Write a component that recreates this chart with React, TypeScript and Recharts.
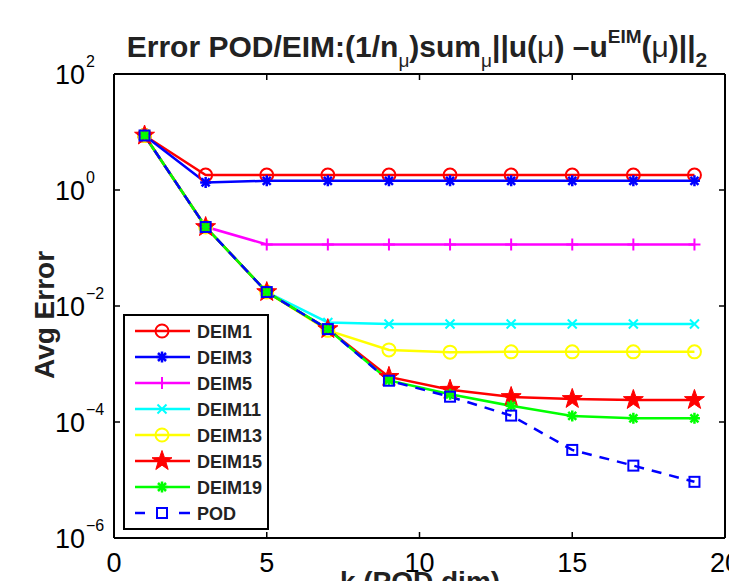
import React from 'react';
import { LineChart, Line, XAxis, YAxis, Legend } from 'recharts';

// k values (POD dimension)
const kValues = [1, 3, 5, 7, 9, 11, 13, 15, 17, 19];

// average errors
const deim1 = [8.7, 1.81, 1.81, 1.81, 1.81, 1.81, 1.81, 1.81, 1.81, 1.81];
const deim3 = [8.7, 1.35, 1.44, 1.44, 1.44, 1.44, 1.44, 1.44, 1.44, 1.44];
const deim5 = [8.7, 0.232, 0.115, 0.115, 0.115, 0.115, 0.115, 0.115, 0.115, 0.115];
const deim11 = [8.7, 0.23, 0.0174, 0.0052, 0.0049, 0.0049, 0.0049, 0.0049, 0.0049, 0.0049];
const deim13 = [8.7, 0.23, 0.0174, 0.0038, 0.00175, 0.0016, 0.00162, 0.00162, 0.00162, 0.00162];
const deim15 = [8.7, 0.23, 0.0174, 0.004, 6.0e-4, 3.6e-4, 2.7e-4, 2.5e-4, 2.4e-4, 2.4e-4];
const deim19 = [8.7, 0.23, 0.0174, 0.004, 5.2e-4, 3.0e-4, 1.9e-4, 1.27e-4, 1.16e-4, 1.16e-4];
const pod = [8.7, 0.23, 0.0174, 0.004, 5.15e-4, 2.73e-4, 1.29e-4, 3.3e-5, 1.77e-5, 9.3e-6];

const xTicks = [0, 5, 10, 15, 20];
const yTicks = [1e-6, 1e-4, 1e-2, 1, 100];

const FONT = '"Liberation Sans", Arial, Helvetica, sans-serif';

type MarkerKind = 'circle' | 'asterisk' | 'plus' | 'cross' | 'star' | 'square';

const series: { name: string; values: number[]; color: string; marker: MarkerKind; dashed?: boolean }[] = [
  { name: 'DEIM1', values: deim1, color: '#ff0000', marker: 'circle' },
  { name: 'DEIM3', values: deim3, color: '#0000ff', marker: 'asterisk' },
  { name: 'DEIM5', values: deim5, color: '#ff00ff', marker: 'plus' },
  { name: 'DEIM11', values: deim11, color: '#00ffff', marker: 'cross' },
  { name: 'DEIM13', values: deim13, color: '#ffff00', marker: 'circle' },
  { name: 'DEIM15', values: deim15, color: '#ff0000', marker: 'star' },
  { name: 'DEIM19', values: deim19, color: '#00ff00', marker: 'asterisk' },
  { name: 'POD', values: pod, color: '#0000ff', marker: 'square', dashed: true },
];

const data = kValues.map((k, i) => {
  const row: Record<string, number> = { k };
  series.forEach((s) => {
    row[s.name] = s.values[i];
  });
  return row;
});

function Marker({ kind, cx, cy, color }: { kind: MarkerKind; cx: number; cy: number; color: string }) {
  if (cx == null || cy == null) return null;
  switch (kind) {
    case 'circle':
      return <circle cx={cx} cy={cy} r={6.5} fill="none" stroke={color} strokeWidth={2} />;
    case 'plus':
      return (
        <g stroke={color} strokeWidth={2}>
          <line x1={cx - 6} y1={cy} x2={cx + 6} y2={cy} />
          <line x1={cx} y1={cy - 6} x2={cx} y2={cy + 6} />
        </g>
      );
    case 'cross':
      return (
        <g stroke={color} strokeWidth={2}>
          <line x1={cx - 4.5} y1={cy - 4.5} x2={cx + 4.5} y2={cy + 4.5} />
          <line x1={cx - 4.5} y1={cy + 4.5} x2={cx + 4.5} y2={cy - 4.5} />
        </g>
      );
    case 'asterisk':
      return (
        <g stroke={color} strokeWidth={2.5}>
          <line x1={cx - 5.5} y1={cy} x2={cx + 5.5} y2={cy} />
          <line x1={cx} y1={cy - 5.5} x2={cx} y2={cy + 5.5} />
          <line x1={cx - 4} y1={cy - 4} x2={cx + 4} y2={cy + 4} />
          <line x1={cx - 4} y1={cy + 4} x2={cx + 4} y2={cy - 4} />
        </g>
      );
    case 'star': {
      const pts: string[] = [];
      for (let i = 0; i < 10; i++) {
        const r = i % 2 === 0 ? 10.5 : 4.2;
        const a = -Math.PI / 2 + (i * Math.PI) / 5;
        pts.push(`${cx + r * Math.cos(a)},${cy + r * Math.sin(a)}`);
      }
      return <polygon points={pts.join(' ')} fill={color} stroke={color} strokeWidth={1} />;
    }
    case 'square':
      return <rect x={cx - 5} y={cy - 5} width={10} height={10} fill="none" stroke={color} strokeWidth={2} />;
  }
  return null;
}

const YTick = (props: any) => {
  const { x, y, payload } = props;
  const exp = Math.round(Math.log10(payload.value));
  const expText = exp < 0 ? `\u2212${-exp}` : `${exp}`;
  return (
    <g>
      <line x1={x} y1={y} x2={x + 6} y2={y} stroke="#000" strokeWidth={1.5} />
      <text x={x - 29} y={y + 10} textAnchor="end" fontSize={27} fontFamily={FONT} fill="#000">
        10
      </text>
      <text x={x - 28} y={y - 7} textAnchor="start" fontSize={16} fontFamily={FONT} fill="#000">
        {expText}
      </text>
    </g>
  );
};

const RightTick = (props: any) => {
  const { x, y } = props;
  return <line x1={x} y1={y} x2={x - 6} y2={y} stroke="#000" strokeWidth={1.5} />;
};

const XTick = (props: any) => {
  const { x, y, payload } = props;
  return (
    <g>
      <line x1={x} y1={y} x2={x} y2={y - 6} stroke="#000" strokeWidth={1.5} />
      <text x={x} y={y + 34} textAnchor="middle" fontSize={27} fontFamily={FONT} fill="#000">
        {payload.value}
      </text>
    </g>
  );
};

const TopTick = (props: any) => {
  const { x, y } = props;
  return <line x1={x} y1={y} x2={x} y2={y + 6} stroke="#000" strokeWidth={1.5} />;
};

function LegendBox() {
  return (
    <svg width={146} height={216} style={{ display: 'block' }}>
      <rect x={1} y={1} width={144} height={214} fill="#fff" stroke="#000" strokeWidth={2} />
      {series.map((s, i) => {
        const y = 17 + i * 26;
        return (
          <g key={s.name}>
            {s.dashed ? (
              <g stroke={s.color} strokeWidth={2.5}>
                <line x1={12} y1={y} x2={22} y2={y} />
                <line x1={56} y1={y} x2={67} y2={y} />
              </g>
            ) : (
              <line x1={12} y1={y} x2={67} y2={y} stroke={s.color} strokeWidth={2.5} />
            )}
            <Marker kind={s.marker} cx={39} cy={y} color={s.color} />
            <text x={74} y={y + 6.5} fontSize={18} fontWeight="bold" fontFamily={FONT} fill="#222">
              {s.name}
            </text>
          </g>
        );
      })}
    </svg>
  );
}

export default function App() {
  return (
    <div style={{ position: 'absolute', left: 0, top: 0, width: 729, height: 581, background: '#fff', overflow: 'hidden' }}>
      <LineChart width={729} height={581} data={data} margin={{ top: 73, right: 3, bottom: 13, left: 0 }}>
        <XAxis
          xAxisId="b"
          dataKey="k"
          type="number"
          domain={[0, 20]}
          ticks={xTicks}
          interval={0}
          height={30}
          tickSize={0}
          tickMargin={0}
          tickLine={false}
          axisLine={{ stroke: '#000', strokeWidth: 2 }}
          tick={<XTick />}
        />
        <XAxis
          xAxisId="t"
          orientation="top"
          dataKey="k"
          type="number"
          domain={[0, 20]}
          ticks={xTicks}
          interval={0}
          height={1}
          tickSize={0}
          tickMargin={0}
          tickLine={false}
          axisLine={{ stroke: '#000', strokeWidth: 2 }}
          tick={<TopTick />}
        />
        <YAxis
          yAxisId="l"
          type="number"
          scale="log"
          domain={[1e-6, 100]}
          allowDataOverflow
          ticks={yTicks}
          interval={0}
          width={114}
          tickSize={0}
          tickMargin={0}
          tickLine={false}
          axisLine={{ stroke: '#000', strokeWidth: 2 }}
          tick={<YTick />}
        />
        <YAxis
          yAxisId="r"
          orientation="right"
          type="number"
          scale="log"
          domain={[1e-6, 100]}
          allowDataOverflow
          ticks={yTicks}
          interval={0}
          width={1}
          tickSize={0}
          tickMargin={0}
          tickLine={false}
          axisLine={{ stroke: '#000', strokeWidth: 2 }}
          tick={<RightTick />}
        />
        {series.map((s) => (
          <Line
            key={s.name}
            xAxisId="b"
            yAxisId="l"
            dataKey={s.name}
            stroke={s.color}
            strokeWidth={2.5}
            strokeDasharray={s.dashed ? '10 8' : undefined}
            isAnimationActive={false}
            dot={(p: any) => <Marker key={`${s.name}-${p.index}`} kind={s.marker} cx={p.cx} cy={p.cy} color={s.color} />}
            activeDot={false}
          />
        ))}
        <Legend
          layout="vertical"
          align="center"
          verticalAlign="middle"
          wrapperStyle={{ left: 123, top: 314, width: 146, height: 216 }}
          content={() => <LegendBox />}
        />
      </LineChart>
      <svg width={729} height={581} style={{ position: 'absolute', left: 0, top: 0, pointerEvents: 'none' }}>
        <text x={417} y={57} textAnchor="middle" fontSize={30} fontWeight="bold" fontFamily={FONT} fill="#222">
          Error POD/EIM:(1/n
          <tspan fontSize={19} fontWeight="normal" dy={10}>μ</tspan>
          <tspan dy={-10}>)sum</tspan>
          <tspan fontSize={19} fontWeight="normal" dy={10}>μ</tspan>
          <tspan dy={-10}>||u(</tspan>
          <tspan fontWeight="normal">μ</tspan>
          <tspan>) –u</tspan>
          <tspan fontSize={19} dy={-14}>EIM</tspan>
          <tspan dy={14}>(</tspan>
          <tspan fontWeight="normal">μ</tspan>
          <tspan>)||</tspan>
          <tspan fontSize={21} dy={10}>2</tspan>
        </text>
        <text
          x={54}
          y={315}
          transform="rotate(-90 54 315)"
          textAnchor="middle"
          fontSize={28}
          fontWeight="bold"
          fontFamily={FONT}
          fill="#222"
        >
          Avg Error
        </text>
        <text x={420} y={591} textAnchor="middle" fontSize={28} fontWeight="bold" fontFamily={FONT} fill="#222">
          k (POD dim)
        </text>
      </svg>
    </div>
  );
}
